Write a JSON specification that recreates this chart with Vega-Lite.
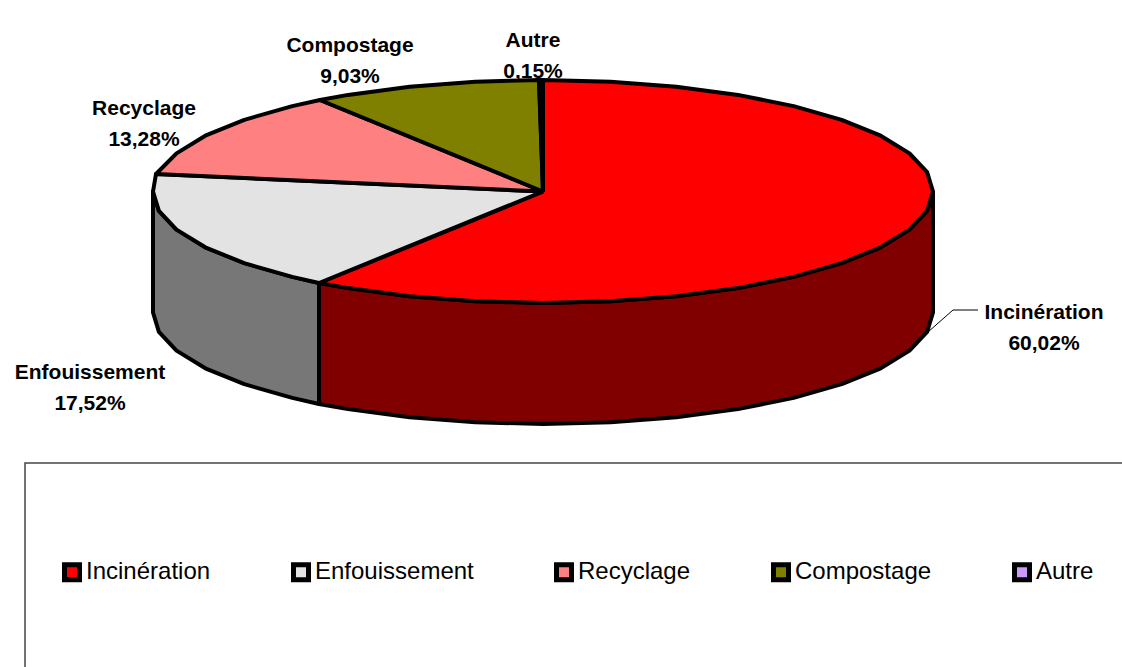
{"$schema":"https://vega.github.io/schema/vega-lite/v6.json","width":1122,"height":667,"padding":0,"autosize":{"type":"fit","contains":"padding"},"background":"white","view":{"stroke":null},"config":{"font":"Liberation Sans"},"layer":[{"data":{"values":[{"x":25,"x2":1300,"y":463,"y2":800}]},"mark":{"type":"rect","clip":true,"fill":null,"stroke":"#444444","strokeWidth":1.5},"encoding":{"x":{"field":"x","type":"quantitative","scale":{"domain":[0,1122],"nice":false,"zero":false},"axis":null},"x2":{"field":"x2"},"y":{"field":"y","type":"quantitative","scale":{"domain":[667,0],"nice":false,"zero":false},"axis":null},"y2":{"field":"y2"}}},{"data":{"values":[{"x":928,"y":332,"i":1},{"x":953,"y":310,"i":2},{"x":978,"y":310,"i":3}]},"mark":{"type":"line","stroke":"#000000","strokeWidth":1},"encoding":{"x":{"field":"x","type":"quantitative"},"y":{"field":"y","type":"quantitative"},"order":{"field":"i"}}},{"data":{"values":[
{"s":"Paroi Incinération","i":1,"x":933,"y":191.5},{"s":"Paroi Incinération","i":2,"x":927.1,"y":210.9},{"s":"Paroi Incinération","i":3,"x":909.5,"y":229.6},{"s":"Paroi Incinération","i":4,"x":880.7,"y":247.3},{"s":"Paroi Incinération","i":5,"x":841.7,"y":263.2},{"s":"Paroi Incinération","i":6,"x":793.7,"y":276.9},{"s":"Paroi Incinération","i":7,"x":738,"y":288.1},{"s":"Paroi Incinération","i":8,"x":676.4,"y":296.3},{"s":"Paroi Incinération","i":9,"x":610.7,"y":301.3},{"s":"Paroi Incinération","i":10,"x":543,"y":303},{"s":"Paroi Incinération","i":11,"x":475.3,"y":301.3},{"s":"Paroi Incinération","i":12,"x":409.6,"y":296.3},{"s":"Paroi Incinération","i":13,"x":348,"y":288.1},{"s":"Paroi Incinération","i":14,"x":319,"y":283},{"s":"Paroi Incinération","i":15,"x":319,"y":404},{"s":"Paroi Incinération","i":16,"x":348,"y":409.1},{"s":"Paroi Incinération","i":17,"x":409.6,"y":417.3},{"s":"Paroi Incinération","i":18,"x":475.3,"y":422.3},{"s":"Paroi Incinération","i":19,"x":543,"y":424},{"s":"Paroi Incinération","i":20,"x":610.7,"y":422.3},{"s":"Paroi Incinération","i":21,"x":676.4,"y":417.3},{"s":"Paroi Incinération","i":22,"x":738,"y":409.1},{"s":"Paroi Incinération","i":23,"x":793.7,"y":397.9},{"s":"Paroi Incinération","i":24,"x":841.7,"y":384.2},{"s":"Paroi Incinération","i":25,"x":880.7,"y":368.3},{"s":"Paroi Incinération","i":26,"x":909.5,"y":350.6},{"s":"Paroi Incinération","i":27,"x":927.1,"y":331.9},{"s":"Paroi Incinération","i":28,"x":933,"y":312.5},{"s":"Paroi Incinération","i":29,"x":933,"y":191.5},
{"s":"Paroi Enfouissement","i":1,"x":319,"y":283},{"s":"Paroi Enfouissement","i":2,"x":292.3,"y":276.9},{"s":"Paroi Enfouissement","i":3,"x":244.3,"y":263.2},{"s":"Paroi Enfouissement","i":4,"x":205.3,"y":247.3},{"s":"Paroi Enfouissement","i":5,"x":176.5,"y":229.6},{"s":"Paroi Enfouissement","i":6,"x":158.9,"y":210.9},{"s":"Paroi Enfouissement","i":7,"x":153,"y":191.5},{"s":"Paroi Enfouissement","i":8,"x":153,"y":312.5},{"s":"Paroi Enfouissement","i":9,"x":158.9,"y":331.9},{"s":"Paroi Enfouissement","i":10,"x":176.5,"y":350.6},{"s":"Paroi Enfouissement","i":11,"x":205.3,"y":368.3},{"s":"Paroi Enfouissement","i":12,"x":244.3,"y":384.2},{"s":"Paroi Enfouissement","i":13,"x":292.3,"y":397.9},{"s":"Paroi Enfouissement","i":14,"x":319,"y":404},{"s":"Paroi Enfouissement","i":15,"x":319,"y":283},
{"s":"Incinération","i":0,"x":543,"y":191.5},{"s":"Incinération","i":1,"x":543,"y":80},{"s":"Incinération","i":2,"x":610.7,"y":81.7},{"s":"Incinération","i":3,"x":676.4,"y":86.7},{"s":"Incinération","i":4,"x":738,"y":94.9},{"s":"Incinération","i":5,"x":793.7,"y":106.1},{"s":"Incinération","i":6,"x":841.7,"y":119.8},{"s":"Incinération","i":7,"x":880.7,"y":135.7},{"s":"Incinération","i":8,"x":909.5,"y":153.4},{"s":"Incinération","i":9,"x":927.1,"y":172.1},{"s":"Incinération","i":10,"x":933,"y":191.5},{"s":"Incinération","i":11,"x":927.1,"y":210.9},{"s":"Incinération","i":12,"x":909.5,"y":229.6},{"s":"Incinération","i":13,"x":880.7,"y":247.3},{"s":"Incinération","i":14,"x":841.7,"y":263.2},{"s":"Incinération","i":15,"x":793.7,"y":276.9},{"s":"Incinération","i":16,"x":738,"y":288.1},{"s":"Incinération","i":17,"x":676.4,"y":296.3},{"s":"Incinération","i":18,"x":610.7,"y":301.3},{"s":"Incinération","i":19,"x":543,"y":303},{"s":"Incinération","i":20,"x":475.3,"y":301.3},{"s":"Incinération","i":21,"x":409.6,"y":296.3},{"s":"Incinération","i":22,"x":348,"y":288.1},{"s":"Incinération","i":23,"x":319,"y":283},{"s":"Incinération","i":24,"x":543,"y":191.5},
{"s":"Enfouissement","i":0,"x":543,"y":191.5},{"s":"Enfouissement","i":1,"x":319,"y":283},{"s":"Enfouissement","i":2,"x":292.3,"y":276.9},{"s":"Enfouissement","i":3,"x":244.3,"y":263.2},{"s":"Enfouissement","i":4,"x":205.3,"y":247.3},{"s":"Enfouissement","i":5,"x":176.5,"y":229.6},{"s":"Enfouissement","i":6,"x":158.9,"y":210.9},{"s":"Enfouissement","i":7,"x":153,"y":191.5},{"s":"Enfouissement","i":8,"x":156,"y":174},{"s":"Enfouissement","i":9,"x":543,"y":191.5},
{"s":"Recyclage","i":0,"x":543,"y":191.5},{"s":"Recyclage","i":1,"x":156,"y":174},{"s":"Recyclage","i":2,"x":176.5,"y":153.4},{"s":"Recyclage","i":3,"x":205.3,"y":135.7},{"s":"Recyclage","i":4,"x":244.3,"y":119.8},{"s":"Recyclage","i":5,"x":292.3,"y":106.1},{"s":"Recyclage","i":6,"x":320,"y":100},{"s":"Recyclage","i":7,"x":543,"y":191.5},
{"s":"Compostage","i":0,"x":543,"y":191.5},{"s":"Compostage","i":1,"x":320,"y":100},{"s":"Compostage","i":2,"x":348,"y":94.9},{"s":"Compostage","i":3,"x":409.6,"y":86.7},{"s":"Compostage","i":4,"x":475.3,"y":81.7},{"s":"Compostage","i":5,"x":539,"y":80},{"s":"Compostage","i":6,"x":543,"y":191.5},
{"s":"Autre","i":0,"x":543,"y":191.5},{"s":"Autre","i":1,"x":539,"y":80},{"s":"Autre","i":2,"x":543,"y":80},{"s":"Autre","i":3,"x":543,"y":191.5}
]},"mark":{"type":"line","stroke":"#000000","strokeWidth":4,"strokeJoin":"round","fill":"#ff0000"},"encoding":{"x":{"field":"x","type":"quantitative"},"y":{"field":"y","type":"quantitative"},"order":{"field":"i"},"fill":{"field":"s","type":"nominal","sort":null,"scale":{"domain":["Incinération","Enfouissement","Recyclage","Compostage","Autre","Paroi Incinération","Paroi Enfouissement"],"range":["#ff0000","#e3e3e3","#ff8080","#808000","#cc99ff","#800000","#777777"]},"legend":{"title":null,"orient":"none","legendX":60,"legendY":560,"direction":"horizontal","columns":5,"values":["Incinération","Enfouissement","Recyclage","Compostage","Autre"],"symbolType":"square","symbolSize":225,"symbolStrokeColor":"#000000","symbolStrokeWidth":5,"symbolOpacity":1,"labelFontSize":24,"labelFont":"Liberation Sans","labelColor":"#000000","labelOffset":2,"labelLimit":300,"columnPadding":72,"gridAlign":"each","padding":0}}}},{"data":{"values":[{"t":"Incinération\n60,02%","x":1044,"y":313},{"t":"Enfouissement\n17,52%","x":90,"y":373},{"t":"Recyclage\n13,28%","x":144,"y":109},{"t":"Compostage\n9,03%","x":350,"y":45.5},{"t":"Autre\n0,15%","x":533,"y":41}]},"mark":{"type":"text","font":"Liberation Sans","fontWeight":"bold","fontSize":21,"lineBreak":"\n","lineHeight":31,"align":"center","baseline":"middle","color":"#000000"},"encoding":{"x":{"field":"x","type":"quantitative"},"y":{"field":"y","type":"quantitative"},"text":{"field":"t"}}}]}
